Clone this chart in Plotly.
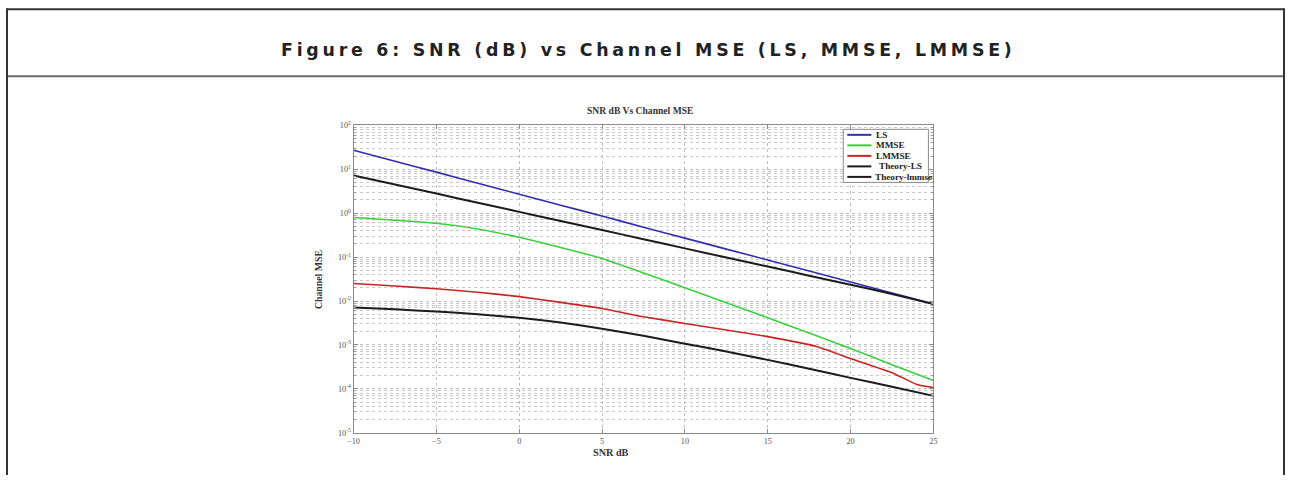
import plotly.graph_objects as go

W, H = 1289, 480

# ---------------- data ----------------
snr = [-10, -7.5, -5, -2.5, 0, 2.5, 5, 7.5, 10, 12.5, 15, 17.5, 20, 22.5, 25]
mse_ls = [27.0, 15.2, 8.6, 4.8, 2.7, 1.52, 0.86, 0.48, 0.27, 0.152, 0.086, 0.048, 0.027, 0.0152, 0.0087]
mse_mmse = [0.794, 0.692, 0.589, 0.437, 0.282, 0.166, 0.0933, 0.0437, 0.0200, 0.00912,
            0.00417, 0.00186, 0.000832, 0.000355, 0.000155]
snr_lmmse = [-10, -7.5, -5, -2.5, 0, 2.5, 5, 7.5, 10, 12.5, 15, 18, 20, 22.5, 24, 25]
mse_lmmse = [0.0251, 0.0219, 0.0191, 0.0158, 0.0126, 0.00933, 0.00676, 0.00437, 0.00309, 0.00219,
             0.00155, 0.000912, 0.000490, 0.000234, 0.000126, 0.000107]
mse_theory_ls = [7.2, 4.5, 2.79, 1.73, 1.07, 0.665, 0.412, 0.256, 0.158, 0.098, 0.061, 0.0378,
                 0.0234, 0.0145, 0.0085]
mse_theory_lmmse = [0.00708, 0.00646, 0.00575, 0.00501, 0.00417, 0.00324, 0.00234, 0.00162, 0.00107,
                    0.000708, 0.000457, 0.000288, 0.000178, 0.000112, 0.0000692]

series_names = ["LS", "MMSE", "LMMSE", "Theory-LS", "Theory-lmmse"]
series_colors = ["#2f2fae", "#3ccf3c", "#c92424", "#1c1c1c", "#1c1c1c"]

x_ticks = [-10, -5, 0, 5, 10, 15, 20, 25]
y_tickvals = [1e2, 1e1, 1e0, 1e-1, 1e-2, 1e-3, 1e-4, 1e-5]
y_ticktext = ["10<sup>2</sup>", "10<sup>1</sup>", "10<sup>0</sup>", "10<sup>-1</sup>",
              "10<sup>-2</sup>", "10<sup>-3</sup>", "10<sup>-4</sup>", "10<sup>-5</sup>"]

header_title = "Figure 6: SNR (dB) vs Channel MSE (LS, MMSE, LMMSE)"
plot_title = "SNR dB Vs Channel MSE"
x_title = "SNR dB"
y_title = "Channel MSE"

# ---------------- helpers ----------------
# the photographed page shows a slight inset; positions are given in target-picture pixels
SX = (W + 12) / W
SY = (H + 12) / H


def ex(x):
    return min(max(x * SX - 6, 1), W - 1)


def ey(y):
    return min(max(y * SY - 6, 1), H - 1)


def px(x):
    return ex(x) / W


def py(y):
    return 1 - ey(y) / H


SERIF = "Liberation Serif, Times New Roman, serif"

fig = go.Figure()
xs = [snr, snr, snr_lmmse, snr, snr]
ys = [mse_ls, mse_mmse, mse_lmmse, mse_theory_ls, mse_theory_lmmse]
widths = [1.6, 1.6, 1.6, 2.0, 2.0]
for name, color, x, y, w in zip(series_names, series_colors, xs, ys, widths):
    fig.add_trace(go.Scatter(x=x, y=y, mode="lines", name=name,
                             line=dict(color=color, width=w, shape="spline", smoothing=0.4),
                             showlegend=False))

grid_col = "#bdbdbd"
fig.update_xaxes(
    domain=[px(353), px(932)], range=[-10, 25], tickvals=x_ticks,
    showgrid=True, gridcolor=grid_col, griddash="dot", gridwidth=1,
    zeroline=False, showline=True, linecolor="#8a8a8a", linewidth=1, mirror="allticks",
    ticks="inside", ticklen=4, tickcolor="#8a8a8a",
    tickfont=dict(family=SERIF, size=8.2, color="#555555"),
)
fig.update_yaxes(
    type="log", domain=[py(432), py(125)], range=[-5, 2],
    tickvals=y_tickvals, ticktext=y_ticktext,
    showgrid=True, gridcolor=grid_col, griddash="dot", gridwidth=1,
    zeroline=False, showline=True, linecolor="#8a8a8a", linewidth=1, mirror="allticks",
    ticks="inside", ticklen=4, tickcolor="#8a8a8a",
    tickfont=dict(family=SERIF, size=8.2, color="#555555"),
    minor=dict(dtick="D1", showgrid=True, gridcolor="#c8c8c8", griddash="dot",
               ticks="inside", ticklen=2, tickcolor="#9a9a9a"),
)

shapes = []
# outer frame
shapes.append(dict(type="line", xref="paper", yref="paper", x0=px(3), x1=px(1289), y0=py(9), y1=py(9),
                   line=dict(color="#333333", width=2)))
shapes.append(dict(type="line", xref="paper", yref="paper", x0=px(4), x1=px(1289), y0=py(76), y1=py(76),
                   line=dict(color="#6a6a6a", width=2)))
shapes.append(dict(type="line", xref="paper", yref="paper", x0=px(4), x1=px(4), y0=py(8), y1=0,
                   line=dict(color="#333333", width=2)))
shapes.append(dict(type="line", xref="paper", yref="paper", x0=px(1287), x1=px(1287), y0=py(8), y1=0,
                   line=dict(color="#333333", width=2)))

# custom compact legend (MATLAB style)
shapes.append(dict(type="rect", xref="paper", yref="paper", x0=px(842), x1=px(927), y0=py(182), y1=py(129),
                   line=dict(color="#8a8a8a", width=1), fillcolor="white", layer="above"))
annotations = []
leg_y = [134.5, 145, 155.5, 166, 176.5]
leg_text_x = [873, 873, 873, 876, 872]
for name, color, yy, tx in zip(series_names, series_colors, leg_y, leg_text_x):
    shapes.append(dict(type="line", xref="paper", yref="paper", x0=px(846), x1=px(870), y0=py(yy), y1=py(yy),
                       line=dict(color=color, width=2), layer="above"))
    annotations.append(dict(xref="paper", yref="paper", x=px(tx), y=py(yy), text=name, showarrow=False,
                            xanchor="left", yanchor="middle",
                            font=dict(family=SERIF, size=9.2, color="#222222", weight="bold")))

annotations.append(dict(xref="paper", yref="paper", x=px(647), y=py(50),
                        text='<span style="letter-spacing:3.75px">' + header_title + '</span>',
                        showarrow=False, xanchor="center", yanchor="middle",
                        font=dict(family="Verdana, DejaVu Sans, sans-serif", size=17.4, color="#222222",
                                  weight="bold")))
annotations.append(dict(xref="paper", yref="paper", x=px(639), y=py(110), text=plot_title, showarrow=False,
                        xanchor="center", yanchor="middle",
                        font=dict(family=SERIF, size=9.6, color="#333333", weight="bold")))
annotations.append(dict(xref="paper", yref="paper", x=px(610), y=py(452), text=x_title, showarrow=False,
                        xanchor="center", yanchor="middle",
                        font=dict(family=SERIF, size=10.2, color="#333333", weight="bold")))
annotations.append(dict(xref="paper", yref="paper", x=px(318), y=py(279), text=y_title, showarrow=False,
                        textangle=-90, xanchor="center", yanchor="middle",
                        font=dict(family=SERIF, size=9.8, color="#333333", weight="bold")))

fig.update_layout(
    width=W, height=H, margin=dict(l=0, r=0, t=0, b=0),
    paper_bgcolor="white", plot_bgcolor="white",
    shapes=shapes, annotations=annotations, showlegend=False,
)

fig.write_html("out.html", config={"displayModeBar": False},
               post_script="document.body.style.margin='0';document.documentElement.style.overflow='hidden';")
